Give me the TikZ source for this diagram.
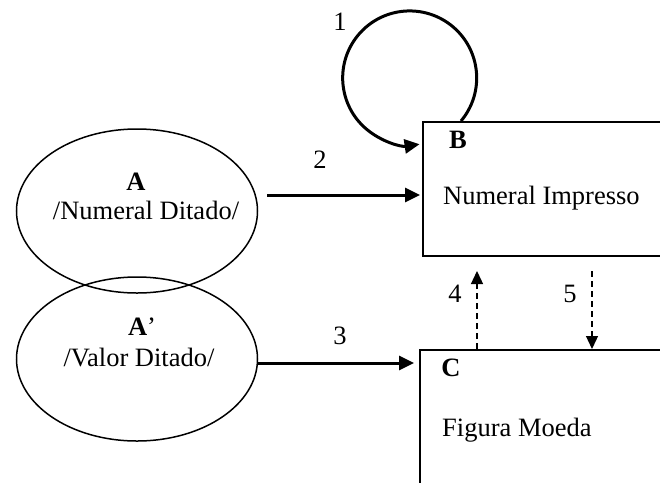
\documentclass[tikz,border=0pt]{standalone}
\usepackage{fontspec}
\setmainfont{Liberation Serif}
\usetikzlibrary{shapes.geometric,arrows.meta}
\begin{document}
\begin{tikzpicture}[x=1pt,y=-1pt,
  every node/.style={font=\fontsize{26.5}{31}\selectfont, inner sep=0pt},
  state/.style={draw, ellipse, line width=1.5pt, minimum width=241pt, minimum height=164pt},
  panel/.style={draw, rectangle, line width=2pt},
  heavy/.style={line width=3pt, -{Triangle[length=15pt,width=14pt]}},
  light/.style={line width=1.3pt, dash pattern=on 6pt off 4pt, -{Triangle[length=13pt,width=12pt]}},
  num/.style={anchor=center}]
\useasboundingbox (0,0) rectangle (660,482);
\clip (0,0) rectangle (660,482);

% stimulus ellipses
\node[state] (A) at (137,211) {};
\node[state] (Ap) at (137,359) {};
\node (Albl) at (136,182) {\textbf{A}};
\node (Atxt) at (146,210) {/Numeral Ditado/};
\node (Aplbl) at (142,327) {\textbf{A}’};
\node (Aptxt) at (139,357) {/Valor Ditado/};

% response panels (run past the right and lower edges)
\node[panel, minimum width=300pt, minimum height=134pt] (B) at (573,189) {};
\node[panel, minimum width=300pt, minimum height=200pt] (C) at (570,450) {};
\node (Blbl) at (458,140) {\textbf{B}};
\node[anchor=west] (Btxt) at (443,198) {Numeral Impresso};
\node (Clbl) at (451,368) {\textbf{C}};
\node[anchor=west] (Ctxt) at (442,430) {Figura Moeda};

% relation endpoints (xshift/yshift act on the page, so positive yshift is upward)
\coordinate (a2s) at ([xshift=9pt,yshift=16pt]A.east);
\coordinate (a2e) at ([xshift=-2pt]a2s -| B.west);
\coordinate (a3s) at ([yshift=-4pt]Ap.east);
\coordinate (a3e) at ([xshift=-5pt]a3s -| C.west);
\coordinate (c4) at ([xshift=58pt]C.north west);
\coordinate (b4) at ([yshift=-14pt]c4 |- B.south);
\coordinate (c5) at ([xshift=173pt]C.north west);
\coordinate (b5) at ([yshift=-14pt]c5 |- B.south);

% relations
\draw[heavy] ([xshift=39pt]B.north west) arc[start angle=40, end angle=-278.5, radius=67];
\draw[heavy] (a2s) -- (a2e);
\draw[heavy] (a3s) -- (a3e);
\draw[light] (c4) -- (b4);
\draw[light] (b5) -- (c5);

% relation numbers
\node[num] (n1) at (340,22) {1};
\node[num] (n2) at (320,160) {2};
\node[num] (n3) at (340,336) {3};
\node[num] (n4) at (455,294) {4};
\node[num] (n5) at (570,294) {5};
\end{tikzpicture}
\end{document}
